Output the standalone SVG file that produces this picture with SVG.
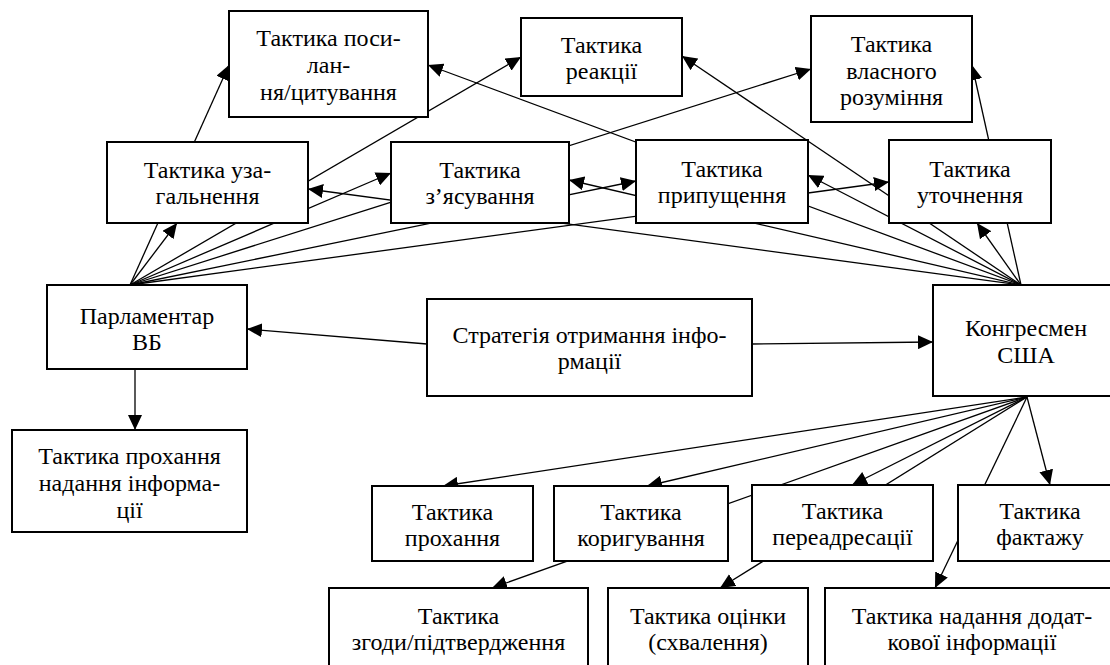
<svg xmlns="http://www.w3.org/2000/svg" width="1110" height="665" viewBox="0 0 1110 665">
<style>
.b{fill:#fff;stroke:#000;stroke-width:2}
.c{stroke:#000;stroke-width:1.3;fill:none}
.a{marker-end:url(#ah)}
.t{font-family:'Liberation Serif','Times New Roman',serif;font-size:24px;fill:#000;text-anchor:middle}
</style>
<defs>
<marker id="ah" markerUnits="userSpaceOnUse" markerWidth="15" markerHeight="14" refX="15" refY="7" orient="auto" viewBox="0 0 15 14">
<path d="M0,0 L15,7 L0,14 z" fill="#000"/>
</marker>
</defs>
<rect width="1110" height="665" fill="#fff"/>
<g id="connectors">
<line class="c a" x1="130" y1="285" x2="229" y2="65"/>
<line class="c a" x1="130" y1="285" x2="177" y2="223"/>
<line class="c a" x1="130" y1="285" x2="521" y2="57"/>
<line class="c a" x1="130" y1="285" x2="391" y2="173"/>
<line class="c a" x1="130" y1="285" x2="811" y2="69"/>
<line class="c a" x1="130" y1="285" x2="636" y2="181"/>
<line class="c a" x1="130" y1="285" x2="889" y2="182"/>
<line class="c a" x1="1021" y1="285" x2="428" y2="65"/>
<line class="c a" x1="1021" y1="285" x2="682" y2="56"/>
<line class="c a" x1="1021" y1="285" x2="308" y2="189"/>
<line class="c a" x1="1021" y1="285" x2="569" y2="180"/>
<line class="c a" x1="1021" y1="285" x2="977" y2="223"/>
<line class="c a" x1="1021" y1="285" x2="972" y2="65"/>
<line class="c a" x1="1021" y1="285" x2="808" y2="175"/>
<line class="c a" x1="427" y1="344" x2="247" y2="329"/>
<line class="c a" x1="752" y1="344" x2="933" y2="342"/>
<line class="c a" x1="135" y1="369" x2="135" y2="430"/>
<line class="c a" x1="1027" y1="397" x2="443" y2="486"/>
<line class="c a" x1="1027" y1="397" x2="647" y2="486"/>
<line class="c a" x1="1027" y1="397" x2="492" y2="588"/>
<line class="c a" x1="1027" y1="397" x2="852" y2="485"/>
<line class="c a" x1="1027" y1="397" x2="720" y2="588"/>
<line class="c a" x1="1027" y1="397" x2="935" y2="588"/>
<line class="c a" x1="1027" y1="397" x2="1050" y2="485"/>
</g>
<g id="n-posylannia"><rect class="b" x="229" y="11" width="199" height="106"/><text class="t" x="328.5" y="46">Тактика поси-<tspan x="328.5" dy="27">лан-</tspan><tspan x="328.5" dy="27">ня/цитування</tspan></text></g>
<g id="n-reaktsii"><rect class="b" x="521" y="18" width="161" height="78"/><text class="t" x="601.5" y="53">Тактика<tspan x="601.5" dy="26">реакції</tspan></text></g>
<g id="n-vlasnoho"><rect class="b" x="811" y="16" width="161" height="106"/><text class="t" x="891.5" y="52">Тактика<tspan x="891.5" dy="26.5">власного</tspan><tspan x="891.5" dy="26.5">розуміння</tspan></text></g>
<g id="n-uzahalnennia"><rect class="b" x="107" y="142" width="201" height="81"/><text class="t" x="207.5" y="178">Тактика уза-<tspan x="207.5" dy="26">гальнення</tspan></text></g>
<g id="n-ziasuvannia"><rect class="b" x="391" y="142" width="178" height="81"/><text class="t" x="480" y="178">Тактика<tspan x="480" dy="26">з’ясування</tspan></text></g>
<g id="n-prypushchennia"><rect class="b" x="636" y="140" width="172" height="83"/><text class="t" x="722" y="177">Тактика<tspan x="722" dy="26">припущення</tspan></text></g>
<g id="n-utochnennia"><rect class="b" x="889" y="140" width="162" height="83"/><text class="t" x="970" y="177">Тактика<tspan x="970" dy="26">уточнення</tspan></text></g>
<g id="n-parlamentar"><rect class="b" x="47" y="285" width="200" height="84"/><text class="t" x="147" y="324">Парламентар<tspan x="147" dy="26">ВБ</tspan></text></g>
<g id="n-stratehiia"><rect class="b" x="427" y="299" width="325" height="97"/><text class="t" x="589.5" y="343">Стратегія отримання інфо-<tspan x="589.5" dy="26">рмації</tspan></text></g>
<g id="n-konhresmen"><rect class="b" x="933" y="285" width="186" height="111"/><text class="t" x="1026" y="336">Конгресмен<tspan x="1026" dy="27">США</tspan></text></g>
<g id="n-prokhannia-nadannia"><rect class="b" x="12" y="430" width="235" height="102"/><text class="t" x="129.5" y="464">Тактика прохання<tspan x="129.5" dy="27">надання інформа-</tspan><tspan x="129.5" dy="27">ції</tspan></text></g>
<g id="n-prokhannia"><rect class="b" x="372" y="486" width="161" height="75"/><text class="t" x="452.5" y="520">Тактика<tspan x="452.5" dy="25.5">прохання</tspan></text></g>
<g id="n-koryhuvannia"><rect class="b" x="554" y="486" width="174" height="75"/><text class="t" x="641" y="520">Тактика<tspan x="641" dy="25.5">коригування</tspan></text></g>
<g id="n-pereadresatsii"><rect class="b" x="752" y="485" width="181" height="76"/><text class="t" x="842.5" y="519">Тактика<tspan x="842.5" dy="26">переадресації</tspan></text></g>
<g id="n-faktazhu"><rect class="b" x="958" y="485" width="164" height="76"/><text class="t" x="1040" y="519">Тактика<tspan x="1040" dy="26">фактажу</tspan></text></g>
<g id="n-zghody"><rect class="b" x="329" y="588" width="259" height="100"/><text class="t" x="458.5" y="624">Тактика<tspan x="458.5" dy="25.5">згоди/підтвердження</tspan></text></g>
<g id="n-otsinky"><rect class="b" x="608" y="588" width="200" height="100"/><text class="t" x="708" y="624">Тактика оцінки<tspan x="708" dy="25.5">(схвалення)</tspan></text></g>
<g id="n-nadannia-dodatkovoi"><rect class="b" x="825" y="588" width="294" height="100"/><text class="t" x="972" y="624">Тактика надання додат-<tspan x="972" dy="25.5">кової інформації</tspan></text></g>
</svg>
